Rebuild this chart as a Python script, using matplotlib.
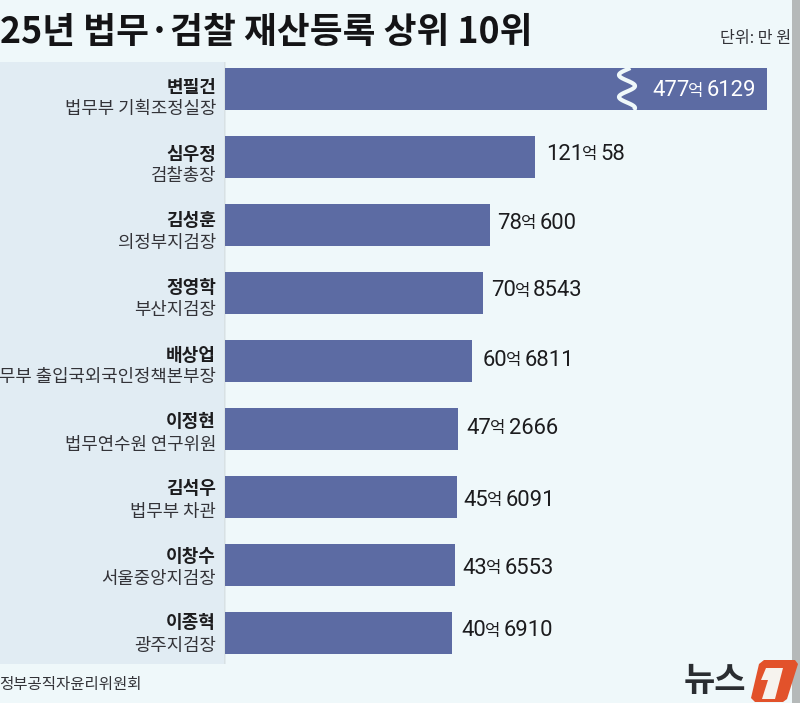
import numpy as np
import matplotlib
matplotlib.use("Agg")
import matplotlib.pyplot as plt
from matplotlib.patches import Rectangle, Polygon

names = ["변필건", "심우정", "김성훈", "정영학", "배상업", "이정현", "김석우", "이창수", "이종혁"]
titles = ["법무부 기획조정실장", "검찰총장", "의정부지검장", "부산지검장", "무부 출입국외국인정책본부장",
          "법무연수원 연구위원", "법무부 차관", "서울중앙지검장", "광주지검장"]
eok = [477, 121, 78, 70, 60, 47, 45, 43, 40]
man = [6129, 58, 600, 8543, 6811, 2666, 6091, 6553, 6910]
title_text = "25년 법무·검찰 재산등록 상위 10위"
unit_text = "단위: 만 원"
source_text = "정부공직자윤리위원회"

# layout of the value labels, in picture pixels
label_gap = [0, 11, 7, 8, 10, 8, 7, 8, 10]
label_cy = [91, 154, 223, 291, 360, 428, 500, 568, 631]

KR = "Noto Sans CJK KR"
NUM = "Roboto"
BG = "#EFF8FA"
PANEL = "#E1ECF3"
BAR = "#5C6BA3"
INK = "#1C1C1E"

W, H = 800, 703
fig = plt.figure(figsize=(W / 100, H / 100), dpi=100, facecolor=BG)
ax = fig.add_axes([0, 0, 1, 1])
ax.axis("off")
# The published axis is truncated: bars start far below zero on a linear scale
ax.set_xlim(-393.5, 375.8)
ax.set_ylim(9.03, -1.309)
base = -177.1
cap = 344.0  # the top bar is broken by the wave mark and ends here

values = np.array(eok) + np.array(man) / 10000
y = np.arange(len(values))


def P(x, yy):
    return x / W, 1 - yy / H


for i, a in enumerate([0.22, 0.12]):
    fig.add_artist(Rectangle((224 / W + i * 1.0 / W, 1 - 664 / H), 1.0 / W, 602 / H,
                             transform=fig.transFigure, fc="#8A9299", ec="none", alpha=a, zorder=1))
fig.add_artist(Rectangle((0, 1 - 664 / H), 224 / W, 602 / H, transform=fig.transFigure,
                         fc=PANEL, ec="none", zorder=1))
fig.add_artist(Rectangle((792 / W, 0), 8 / W, 1, transform=fig.transFigure, fc="#B5B9B9", ec="none", zorder=6))

ax.set_zorder(3)
ax.patch.set_alpha(0)
ax.barh(y, np.minimum(values, cap) - base, left=base, height=0.62, color=BAR, zorder=3)

# decorative break in the top bar
wy = np.linspace(68, 110, 120)
wx = 627 - 8 * np.cos(2 * np.pi * (wy - 75) / 22)
ax.plot(wx / W, 1 - wy / H, transform=fig.transFigure, color=BG, lw=3.0, solid_capstyle="butt", zorder=4)

renderer = fig.canvas.get_renderer()
for i, (n, ti) in enumerate(zip(names, titles)):
    fig.text(216 / W, 1 - (87 + 67 * i) / H, n, ha="right", va="center", fontfamily=KR, fontweight="bold",
             fontsize=13, color=INK, zorder=7)
    fig.text(216 / W, 1 - (109 + 67.1 * i) / H, ti, ha="right", va="center", fontfamily=KR, fontsize=12.8,
             color="#333338", zorder=7)

for i, (e, m, v) in enumerate(zip(eok, man, values)):
    col = "white" if i == 0 else INK
    x0 = 652 if i == 0 else ax.transData.transform((v, 0))[0] + label_gap[i]
    cy = label_cy[i]
    a = fig.text(x0 / W, 1 - cy / H, str(e), ha="left", va="center", fontfamily=NUM, fontsize=15.8,
                 color=col, zorder=7)
    ex = a.get_window_extent(renderer).x1
    b = fig.text((ex - 1) / W, 1 - (cy + 0.5) / H, "억", ha="left", va="center", fontfamily=KR, fontsize=12,
                 color=col, zorder=7)
    ex = b.get_window_extent(renderer).x1 + 3
    fig.text(ex / W, 1 - cy / H, str(m), ha="left", va="center", fontfamily=NUM, fontsize=15.8,
             color=col, zorder=7)

fig.text(0 / W, 1 - 32 / H, title_text, ha="left", va="center", fontfamily=KR, fontweight="bold",
         fontsize=25.7, color="#141416", zorder=7)
fig.text(791 / W, 1 - 38 / H, unit_text, ha="right", va="center", fontfamily=KR, fontsize=11.6,
         color="#333338", zorder=7)
fig.text(142 / W, 1 - 685 / H, source_text, ha="right", va="center", fontfamily=KR, fontsize=11.2,
         color="#333338", zorder=7)

fig.text(746 / W, 1 - 681 / H, "뉴스", ha="right", va="center", fontfamily=KR, fontweight="bold",
         fontsize=24.5, color="#2A2D31", zorder=7)
fig.add_artist(Polygon([P(764, 660), P(795, 660), P(798, 664), P(787, 699), P(783, 702), P(755, 702), P(751, 698), P(759, 664)],
                       closed=True, transform=fig.transFigure, fc="#E2522B", ec="none", zorder=7))
fig.add_artist(Polygon([P(766, 668), P(783, 668), P(775, 699), P(762, 699), P(768, 680), P(761, 680)],
                       closed=True, transform=fig.transFigure, fc="#F6F3EE", ec="none", zorder=8))

fig.savefig("out.png", dpi=100, facecolor=BG)
